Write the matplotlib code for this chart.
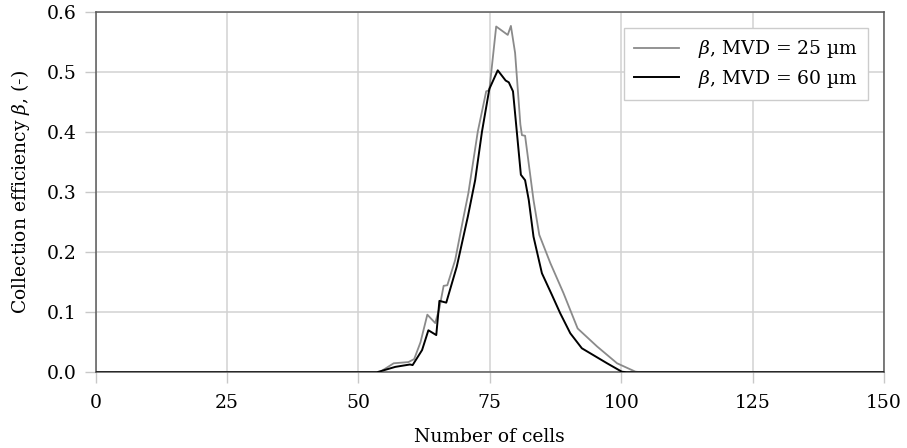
import matplotlib
matplotlib.use("Agg")
import matplotlib.pyplot as plt

# Collection efficiency along the cell index for two droplet sizes
cells_25 = [0, 54.0, 56.7, 59.5, 60.6, 61.8, 63.1, 64.6, 65.4, 66.2, 66.9, 68.4,
            70.0, 70.9, 72.7, 74.3, 74.9, 76.2, 78.4, 79.0, 79.8, 80.8, 81.1,
            81.7, 83.3, 84.4, 86.5, 89.0, 91.7, 95.4, 99.2, 102.7, 104.0, 150]
beta_25 = [0.0, 0.0, 0.015, 0.017, 0.022, 0.050, 0.096, 0.082, 0.107, 0.144,
           0.145, 0.187, 0.259, 0.298, 0.401, 0.468, 0.470, 0.576, 0.562,
           0.577, 0.532, 0.413, 0.395, 0.394, 0.287, 0.229, 0.182, 0.132,
           0.073, 0.043, 0.015, 0.001, 0.0, 0.0]

cells_60 = [0, 53.5, 57.0, 59.8, 60.3, 62.1, 63.3, 64.8, 65.4, 66.7, 68.7,
            70.8, 72.2, 73.5, 74.9, 76.5, 78.0, 78.6, 79.4, 80.9, 81.7, 82.4,
            83.3, 84.9, 86.8, 88.4, 90.3, 92.5, 97.3, 100.1, 101.0, 150]
beta_60 = [0.0, 0.0, 0.009, 0.013, 0.012, 0.037, 0.070, 0.062, 0.119, 0.116,
           0.176, 0.259, 0.320, 0.401, 0.472, 0.503, 0.486, 0.483, 0.468,
           0.329, 0.320, 0.287, 0.226, 0.165, 0.129, 0.098, 0.065, 0.040,
           0.015, 0.001, 0.0, 0.0]

x_ticks = [0, 25, 50, 75, 100, 125, 150]
y_ticks = [0.0, 0.1, 0.2, 0.3, 0.4, 0.5, 0.6]

plt.rcParams["font.family"] = ["DejaVu Serif"]
plt.rcParams["mathtext.fontset"] = "dejavuserif"
FS = 13.5

fig = plt.figure(figsize=(9.07, 4.48), dpi=100)
ax = fig.add_axes([0.1055, 0.169, 0.8692, 0.804])

ax.plot(cells_25, beta_25, color="#8a8a8a", lw=1.3, label=r"$\beta$, MVD = 25 µm", zorder=3)
ax.plot(cells_60, beta_60, color="black", lw=1.4, label=r"$\beta$, MVD = 60 µm", zorder=4)

ax.set_xlim(0, 150)
ax.set_ylim(0, 0.6)
ax.set_xticks(x_ticks)
ax.set_yticks(y_ticks)
ax.set_xticklabels([str(v) for v in x_ticks])
ax.set_yticklabels([f"{v:.1f}" for v in y_ticks])

ax.grid(True, color="#d2d2d2", lw=1.1, zorder=0)
ax.set_axisbelow(True)
for s in ax.spines.values():
    s.set_color("#5a5a5a")
    s.set_linewidth(1.1)

ax.tick_params(axis="both", direction="out", length=8, width=1.0,
               color="#c8c8c8", pad=6, labelsize=FS, labelcolor="black")
ax.tick_params(axis="x", pad=7.5)

ax.set_xlabel("Number of cells", fontsize=FS, labelpad=12)
ax.set_ylabel(r"Collection efficiency $\beta$, (-)", fontsize=FS, labelpad=10)

leg = ax.legend(loc="upper right", fontsize=FS, frameon=True, fancybox=False,
                edgecolor="#cccccc", framealpha=1, handlelength=2.4,
                handletextpad=1.0, borderaxespad=0.85, borderpad=0.55,
                labelspacing=0.4)
leg.get_frame().set_linewidth(1.0)

fig.savefig("out.png", dpi=100)
